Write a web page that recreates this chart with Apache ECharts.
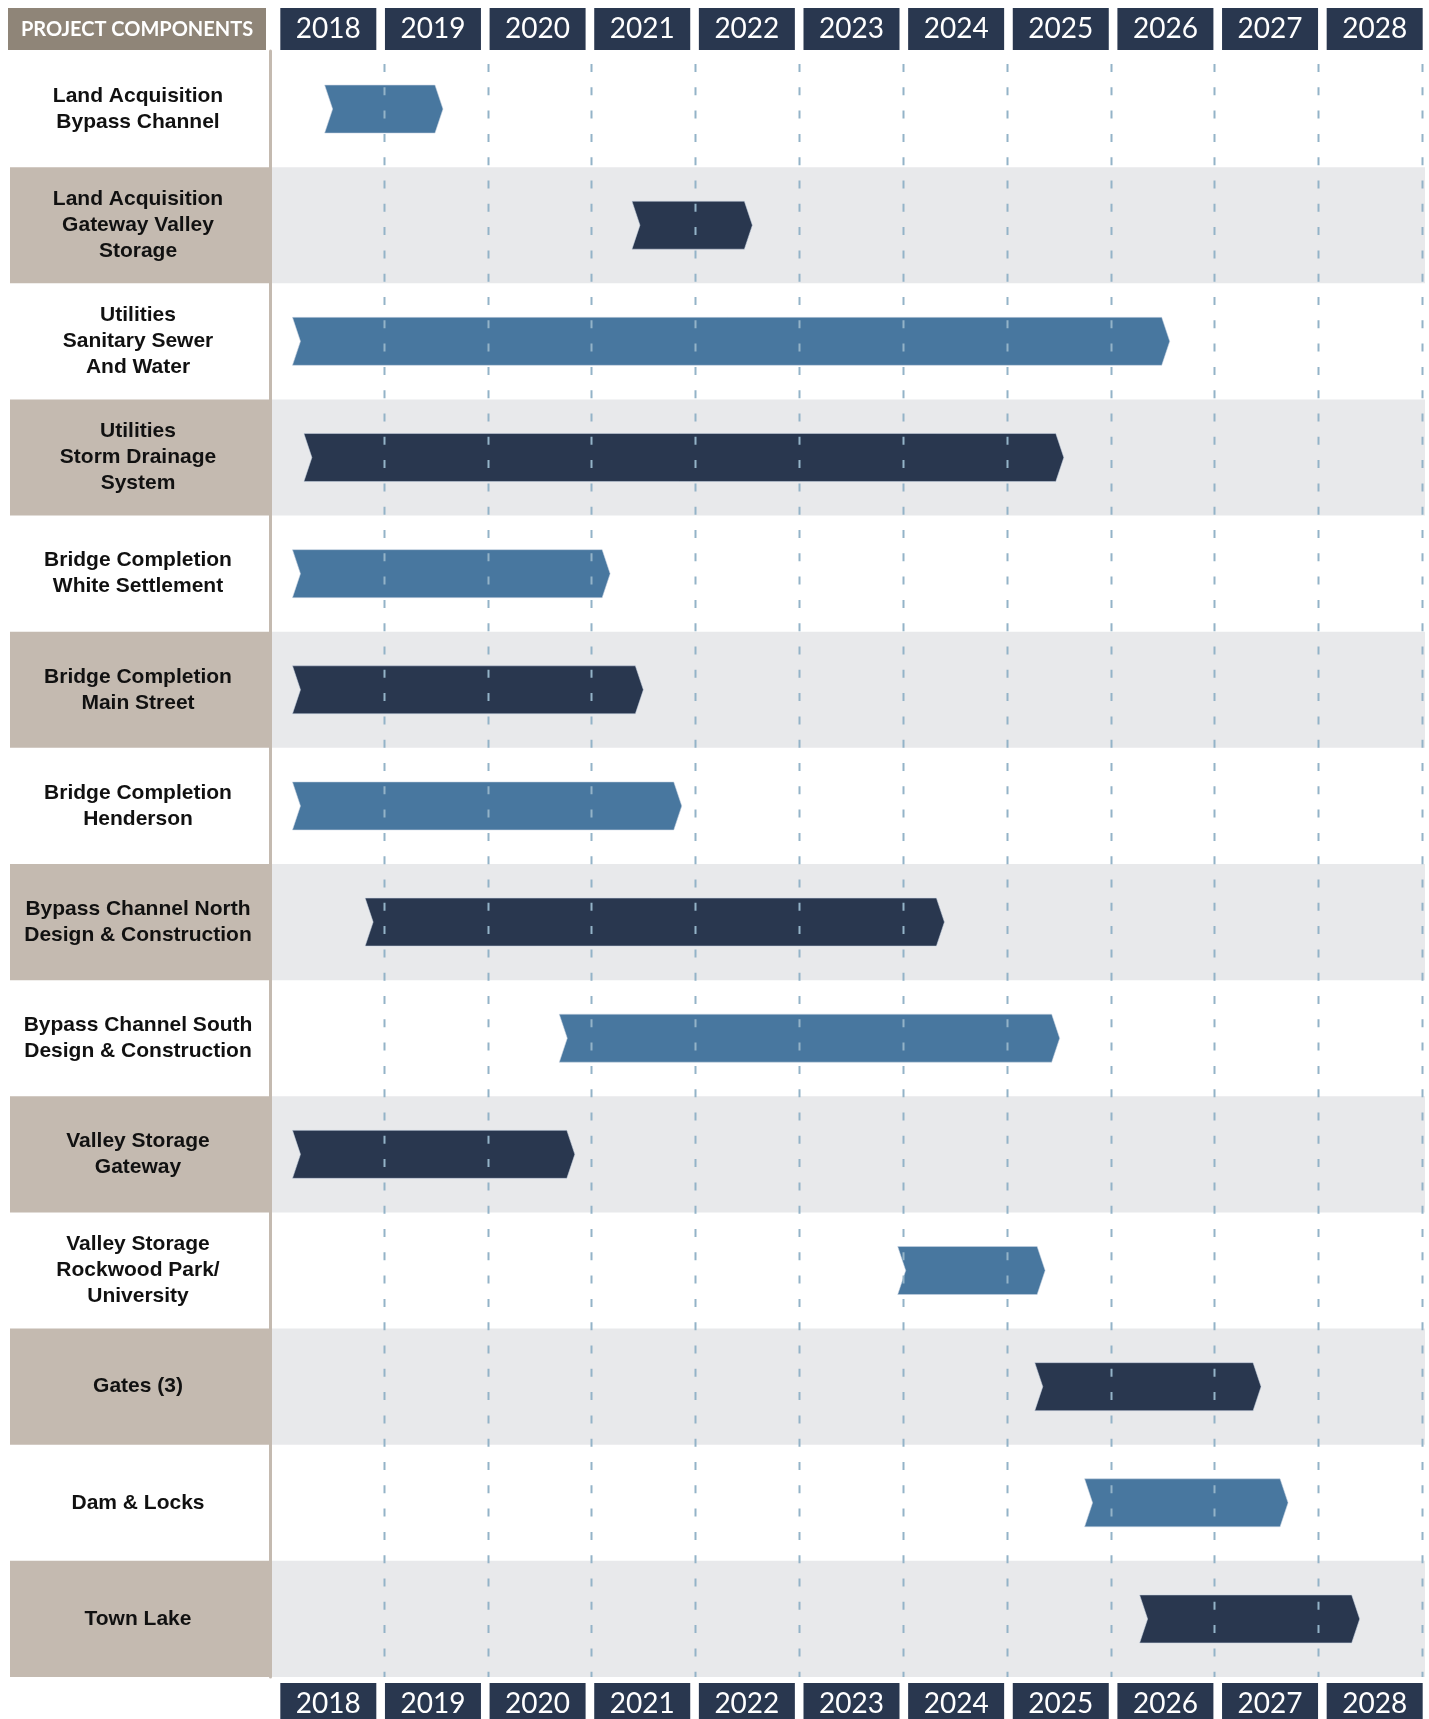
<!DOCTYPE html>
<html>
<head>
<meta charset="utf-8">
<script src="https://cdn.jsdelivr.net/npm/echarts@6/dist/echarts.min.js"></script>
<style>html,body{margin:0;padding:0;background:#fff}#c{width:1429px;height:1719px}</style>
</head>
<body>
<div id="c"></div>
<script>
const categories = [
  'Land Acquisition\nBypass Channel',
  'Land Acquisition\nGateway Valley\nStorage',
  'Utilities\nSanitary Sewer\nAnd Water',
  'Utilities\nStorm Drainage\nSystem',
  'Bridge Completion\nWhite Settlement',
  'Bridge Completion\nMain Street',
  'Bridge Completion\nHenderson',
  'Bypass Channel North\nDesign & Construction',
  'Bypass Channel South\nDesign & Construction',
  'Valley Storage\nGateway',
  'Valley Storage\nRockwood Park/\nUniversity',
  'Gates (3)',
  'Dam & Locks',
  'Town Lake'
];
const startYears = [2018.43, 2021.39, 2018.12, 2018.23, 2018.12, 2018.12, 2018.12, 2018.82, 2020.69, 2018.12, 2023.95, 2025.27, 2025.75, 2026.28];
const endYears   = [2019.57, 2022.55, 2026.57, 2025.55, 2021.18, 2021.50, 2021.87, 2024.40, 2025.51, 2020.84, 2025.37, 2027.45, 2027.71, 2028.40];
const years = ['2018','2019','2020','2021','2022','2023','2024','2025','2026','2027','2028'];
const headerTitle = 'PROJECT COMPONENTS';

const yearBoundaries = years.map(y => +y + 1);
const shadedRows = categories.map((c, i) => i).filter(i => i % 2 === 1);
const barData = categories.map((c, i) => [i, startYears[i], endYears[i]]);

const BLUE = '#48779f', DARK = '#29374f', TAN = '#c4bab0', GRAY = '#e8e9eb';
const rowLabelStyle = {align: 'center', fontSize: 21, fontWeight: 'bold',
  fontFamily: '"Liberation Sans", Arial, sans-serif', color: '#111', lineHeight: 26};
const yAxisData = categories.map(c => {
  const n = c.split('\n').length;
  return {value: c, textStyle: Object.assign({}, rowLabelStyle, {padding: [n === 2 ? 12 : 5, 0, 0, 0]})};
});

const chart = echarts.init(document.getElementById('c'), null, {renderer: 'canvas'});
const GRID = {left: 280, right: 7, top: 51, bottom: 42, containLabel: false, outerBoundsMode: 'none'};
const HEAD_GRID = {left: 276, right: 2, top: 51, bottom: 42, containLabel: false, outerBoundsMode: 'none'};
const yearLabel = {
  interval: 0, color: '#fff', fontSize: 28, fontFamily: 'Lato, "Open Sans", sans-serif',
  backgroundColor: DARK, width: 96, height: 42, lineHeight: 42, align: 'center'
};
chart.setOption({
  backgroundColor: '#fff',
  animation: false,
  grid: [GRID, HEAD_GRID],
  xAxis: [
    {gridIndex: 0, type: 'value', min: 2018, max: 2029, show: false},
    {gridIndex: 1, type: 'category', data: years, position: 'top', boundaryGap: true,
     axisLine: {show: false}, axisTick: {show: false}, splitLine: {show: false},
     axisLabel: Object.assign({margin: 1}, yearLabel)},
    {gridIndex: 1, type: 'category', data: years, position: 'bottom', boundaryGap: true,
     axisLine: {show: false}, axisTick: {show: false}, splitLine: {show: false},
     axisLabel: Object.assign({margin: 6}, yearLabel)}
  ],
  yAxis: [
    {gridIndex: 0, type: 'category', data: yAxisData, inverse: true, offset: 10, z: 10,
     axisLine: {show: true, lineStyle: {color: TAN, width: 3}},
     axisTick: {show: false}, splitLine: {show: false},
     axisLabel: Object.assign({interval: 0, margin: 132}, rowLabelStyle)},
    {gridIndex: 1, type: 'value', show: false, min: 0, max: 1}
  ],
  graphic: [
    {type: 'rect', left: 8, top: 8, shape: {width: 258, height: 42}, style: {fill: '#8f8578'}, z: 10},
    {type: 'text', x: 137, y: 30, z: 11,
     style: {text: headerTitle, fill: '#fff', font: 'bold 20px Lato, "Open Sans", sans-serif',
             textAlign: 'center', textVerticalAlign: 'middle'}}
  ],
  series: [
    {
      type: 'custom', xAxisIndex: 0, yAxisIndex: 0, z: 1, silent: true,
      data: shadedRows.map(i => [2018, i]),
      encode: {x: 0, y: 1},
      renderItem: function (params, api) {
        const cs = params.coordSys;
        const yc = api.coord([2018, api.value(1)])[1];
        const h = api.size([0, 1])[1];
        return {type: 'group', children: [
          {type: 'rect', shape: {x: cs.x - 270, y: yc - h / 2, width: 261, height: h}, style: {fill: TAN}},
          {type: 'rect', shape: {x: cs.x - 9, y: yc - h / 2, width: cs.width + 12, height: h}, style: {fill: GRAY}}
        ]};
      }
    },
    {
      type: 'custom', xAxisIndex: 0, yAxisIndex: 0, z: 2, silent: true,
      data: barData,
      encode: {x: [1, 2], y: 0},
      renderItem: function (params, api) {
        const i = api.value(0);
        const s = api.coord([api.value(1), i]);
        const e = api.coord([api.value(2), i]);
        const h = api.size([0, 1])[1] * 0.413;
        const d = 8;
        const yT = s[1] - h / 2, yB = s[1] + h / 2, yM = s[1];
        return {type: 'polygon',
          shape: {points: [[s[0], yT], [e[0] - d, yT], [e[0], yM], [e[0] - d, yB], [s[0], yB], [s[0] + d, yM]]},
          style: {fill: i % 2 ? DARK : BLUE, stroke: 'rgba(200,212,225,0.55)', lineWidth: 1}};
      }
    },
    {
      type: 'custom', xAxisIndex: 0, yAxisIndex: 0, z: 3, silent: true,
      data: yearBoundaries.map(v => [v, 0]),
      encode: {x: 0, y: 1},
      renderItem: function (params, api) {
        const cs = params.coordSys;
        const x = Math.round(api.coord([api.value(0), 0])[0]) + 0.5;
        return {type: 'line',
          shape: {x1: x, y1: cs.y + 13, x2: x, y2: cs.y + cs.height},
          style: {stroke: '#93b3c8', lineWidth: 2, lineDash: [8, 15.3]}};
      }
    }
  ]
});
</script>
</body>
</html>
